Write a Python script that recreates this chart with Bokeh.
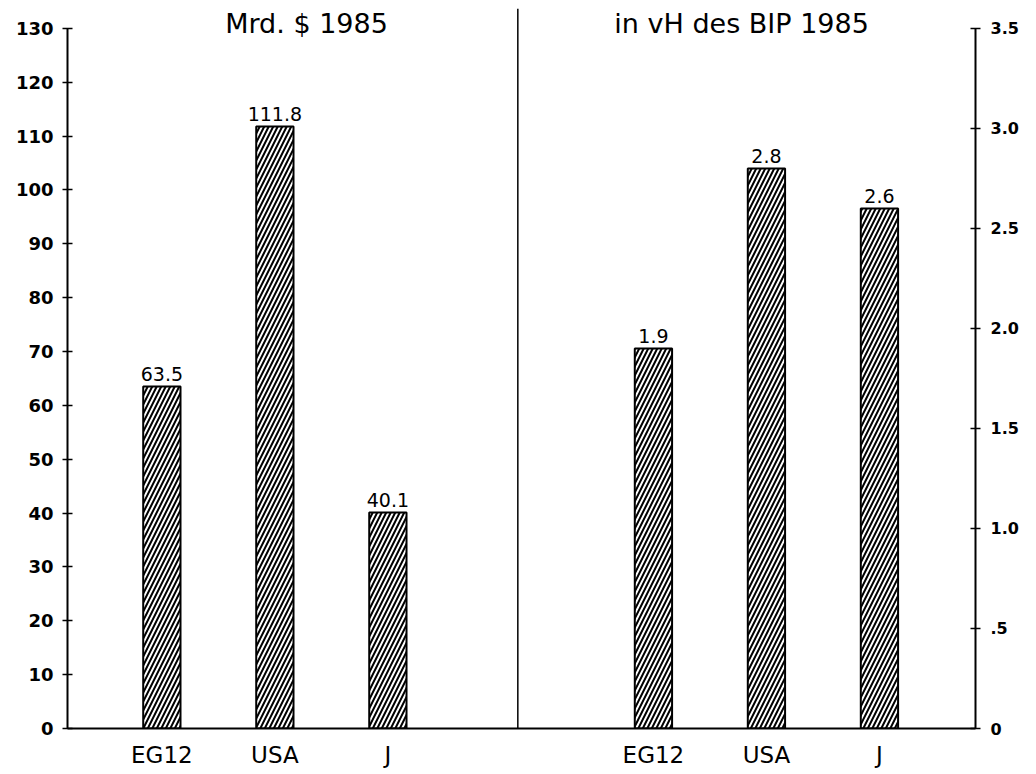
from bokeh.plotting import figure
from bokeh.models import Range1d, LinearAxis, FixedTicker, Span, Label, ColumnDataSource
from bokeh.core.properties import value
from bokeh.embed import file_html
from bokeh.resources import INLINE

# ---- data ----
categories = ["EG12", "USA", "J"]
left_values = [63.5, 111.8, 40.1]          # Mrd. $ 1985
right_values = [1.9, 2.8, 2.6]             # in vH des BIP 1985
left_title = "Mrd. $ 1985"
right_title = "in vH des BIP 1985"
left_ticks = [0, 10, 20, 30, 40, 50, 60, 70, 80, 90, 100, 110, 120, 130]
right_ticks = [0, 0.5, 1.0, 1.5, 2.0, 2.5, 3.0, 3.5]
right_tick_labels = ["0", ".5", "1.0", "1.5", "2.0", "2.5", "3.0", "3.5"]

# ---- layout ----
FONT = "DejaVu Sans"
left_x = [i + 1 for i in range(len(categories))]
right_x = [i + 5.35 for i in range(len(categories))]
divider_x = 4.15
bar_w = 0.33
Y_TOP = 133.7
R_TOP = 3.5 * Y_TOP / 130
LAB_GAP = 2.3  # label gap above bars, in left-axis units

p = figure(width=1030, height=770, output_backend="svg", toolbar_location=None,
           x_range=Range1d(0.165, 8.2), y_range=Range1d(0, Y_TOP),
           min_border_left=67, min_border_right=55, min_border_top=8, min_border_bottom=40)
p.extra_y_ranges = {"right": Range1d(0, R_TOP)}
p.outline_line_color = None
p.grid.visible = False
p.background_fill_color = "white"
p.border_fill_color = "white"

# left axis
ya = p.yaxis[0]
ya.ticker = FixedTicker(ticks=left_ticks)
ya.bounds = (0, 130)
ya.axis_line_width = 2
ya.major_tick_in = 5
ya.major_tick_out = 5
ya.major_tick_line_width = 1.5
ya.minor_tick_line_color = None
ya.major_label_standoff = 9
ya.major_label_text_font = FONT
ya.major_label_text_font_size = "18px"
ya.major_label_text_font_style = "bold"
ya.major_label_text_color = "black"

# right axis
ra = LinearAxis(y_range_name="right")
ra.ticker = FixedTicker(ticks=right_ticks)
ra.major_label_overrides = {float(v): s for v, s in zip(right_ticks, right_tick_labels)}
ra.bounds = (0, 3.5)
ra.axis_line_width = 2
ra.major_tick_in = 5
ra.major_tick_out = 5
ra.major_tick_line_width = 1.5
ra.minor_tick_line_color = None
ra.major_label_standoff = 10
ra.major_label_text_font = FONT
ra.major_label_text_font_size = "16px"
ra.major_label_text_font_style = "bold"
ra.major_label_text_color = "black"
p.add_layout(ra, "right")

# x axis
xa = p.xaxis[0]
xa.ticker = FixedTicker(ticks=left_x + right_x)
xa.major_label_overrides = {float(x): c for x, c in zip(left_x + right_x, categories + categories)}
xa.axis_line_width = 2
xa.major_tick_in = 0
xa.major_tick_out = 0
xa.minor_tick_line_color = None
xa.major_label_standoff = 13
xa.major_label_text_font = FONT
xa.major_label_text_font_size = "23px"
xa.major_label_text_color = "black"

# divider
p.add_layout(Span(location=divider_x, dimension="height", line_color="black", line_width=1.5))

# bars
hatch = dict(fill_color="white", line_color="black", line_width=2,
             hatch_pattern="/", hatch_color="black", hatch_scale=9, hatch_weight=2)
src_l = ColumnDataSource(dict(x=left_x, top=left_values,
                              ty=[v + LAB_GAP for v in left_values],
                              lab=[f"{v}" for v in left_values]))
src_r = ColumnDataSource(dict(x=right_x, top=right_values,
                              ty=[v + LAB_GAP * R_TOP / Y_TOP for v in right_values],
                              lab=[f"{v}" for v in right_values]))
p.vbar(x="x", top="top", width=bar_w, source=src_l, **hatch)
p.vbar(x="x", top="top", width=bar_w, source=src_r, y_range_name="right", **hatch)

p.text(x="x", y="ty", text="lab", source=src_l, text_align="center", text_baseline="alphabetic",
       text_font=value(FONT), text_font_size="19px", text_color="black")
p.text(x="x", y="ty", text="lab", source=src_r, y_range_name="right", text_align="center",
       text_baseline="alphabetic", text_font=value(FONT), text_font_size="19px",
       text_color="black")

# titles
p.add_layout(Label(x=2.28, y=131.0, text=left_title, text_align="center", text_baseline="alphabetic",
                   text_font=FONT, text_font_size="27px", text_color="black"))
p.add_layout(Label(x=6.13, y=131.0, text=right_title, text_align="center", text_baseline="alphabetic",
                   text_font=FONT, text_font_size="27px", text_color="black"))

open("out.html", "w").write(file_html(p, INLINE))
